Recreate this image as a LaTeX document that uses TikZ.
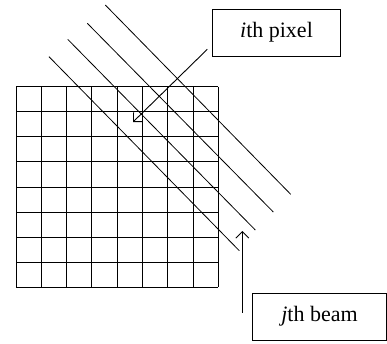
\documentclass[tikz,border=0pt]{standalone}
\usepackage{fontspec}
\setmainfont{Liberation Serif}
\usetikzlibrary{arrows.meta}
\begin{document}
\begin{tikzpicture}[x=1pt, y=-1pt, line width=1pt,
  every node/.style={font=\fontsize{22}{26}\selectfont},
  label/.style={draw, line width=1pt, minimum width=128pt, minimum height=47pt, inner sep=0pt},
  beam/.style={line width=0.8pt},
  pointer/.style={line width=0.9pt, -{Straight Barb[length=6.5pt, width=13pt, line width=0.9pt]}}]
\useasboundingbox (0,0) rectangle (387,343);
% pixel grid
\foreach \k in {0,...,8} {
  \draw (16+25.3*\k,86.7) -- (16+25.3*\k,287.3);
  \draw (16,86.7+25.08*\k) -- (218.3,86.7+25.08*\k);
}
% beams
\draw[beam] (49,56.7) -- (239.3,250.7);
\draw[beam] (67.7,39.3) -- (255.3,230);
\draw[beam] (87.3,23.3) -- (273.3,212);
\draw[beam] (105.3,5) -- (290.7,194.3);
% labels
\node[label] (ipix) at (276.5,32.7) {\textit{i}th pixel};
\node[label, minimum width=134pt] (jbeam) at (319.5,316.7) {\textit{j}th beam};
\coordinate (ipixfrom) at (207.3,49.3);
\coordinate (pix) at (133,122);
\coordinate (jbeamfrom) at (242.3,312.7);
\coordinate (beamto) at (242.3,231);
\draw[pointer] (ipixfrom) -- (pix);
\draw[pointer] (jbeamfrom) -- (beamto);
\end{tikzpicture}
\end{document}
